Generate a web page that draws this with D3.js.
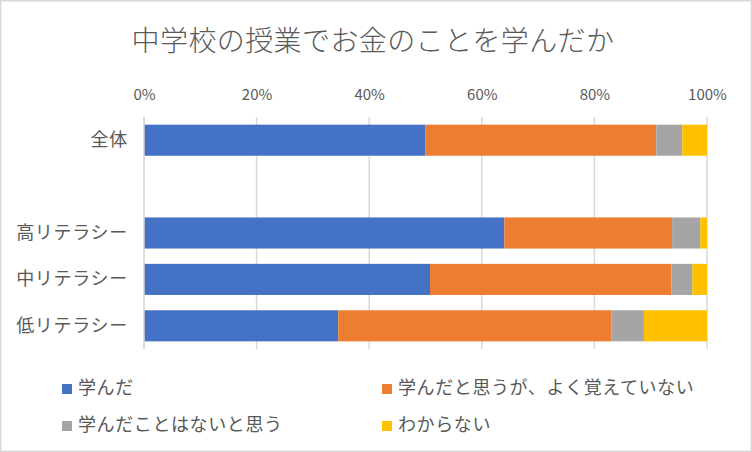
<!DOCTYPE html>
<html><head><meta charset="utf-8">
<script src="https://cdn.jsdelivr.net/npm/d3@7"></script>
<style>
html,body{margin:0;padding:0;background:#fff;}
svg{display:block;font-family:"Noto Sans CJK JP","Noto Sans",sans-serif;}
</style></head>
<body><svg id="c" width="752" height="452"></svg>
<script>
const title = "中学校の授業でお金のことを学んだか";
const categories = ["全体", "", "高リテラシー", "中リテラシー", "低リテラシー"];
const seriesNames = ["学んだ", "学んだと思うが、よく覚えていない", "学んだことはないと思う", "わからない"];
const seriesColors = ["#4472C4", "#ED7D31", "#A5A5A5", "#FFC000"];
const learned    = [50.0, null, 64.0, 50.8, 34.5];
const notRemember= [41.0, null, 29.8, 42.9, 48.5];
const notLearned = [4.6, null, 5.0, 3.7, 5.8];
const unknown    = [4.4, null, 1.2, 2.6, 11.2];
const tickValues = [0, 0.2, 0.4, 0.6, 0.8, 1.0];

const svg = d3.select("#c");
const W = 752, H = 452;
svg.append("rect").attr("x",0.75).attr("y",0.75).attr("width",W-1.5).attr("height",H-1.5)
  .attr("fill","#fff").attr("stroke","#D9D9D9").attr("stroke-width",1.5);

svg.append("text").attr("x",373).attr("y",51).attr("text-anchor","middle")
  .attr("font-size",28).attr("letter-spacing",0.4).attr("font-weight",300).attr("fill","#595959").text(title);

const x = d3.scaleLinear().domain([0,1]).range([144,707]);
const y = d3.scaleBand().domain(categories.map((c,i)=>i)).range([117,349]).paddingInner(0.33).paddingOuter(0.165);

// gridlines
svg.append("g").selectAll("line").data(tickValues).join("line")
  .attr("x1",d=>x(d)).attr("x2",d=>x(d)).attr("y1",117).attr("y2",349)
  .attr("stroke","#D9D9D9").attr("stroke-width",1.5);

// top axis labels
const ax = svg.append("g").attr("transform","translate(0,100)")
  .call(d3.axisTop(x).tickValues(tickValues).tickFormat(d3.format(".0%")).tickSize(0).tickPadding(0));
ax.select(".domain").remove();
ax.selectAll("text").attr("font-size",15).attr("fill","#595959").attr("font-family","'Noto Sans CJK JP',sans-serif");

// stack
const rows = categories.map((c,i)=>({i, v:[learned[i],notRemember[i],notLearned[i],unknown[i]]})).filter(r=>r.v[0]!==null);
const stack = d3.stack().keys([0,1,2,3]).value((d,k)=>d.v[k]/100);
const stacked = stack(rows);
svg.append("g").selectAll("g").data(stacked).join("g").attr("fill",(d,k)=>seriesColors[k])
  .selectAll("rect").data(d=>d).join("rect")
  .attr("x",d=>x(d[0])).attr("width",d=>x(d[1])-x(d[0]))
  .attr("y",d=>y(d.data.i)).attr("height",y.bandwidth());

// redraw 0 axis line on top
svg.append("line").attr("x1",x(0)).attr("x2",x(0)).attr("y1",117).attr("y2",349)
  .attr("stroke","#D9D9D9").attr("stroke-width",1.5);

// category labels
const ay = svg.append("g").attr("transform","translate(128,0)")
  .call(d3.axisLeft(y).tickFormat(i=>categories[i]).tickSize(0).tickPadding(0));
ay.select(".domain").remove();
ay.selectAll("text").attr("font-size",18).attr("letter-spacing",0.7).attr("fill","#595959").attr("font-family","'Noto Sans CJK JP',sans-serif");

// legend
const legPos = [[62,389],[382,389],[62,426],[382,426]];
const lg = svg.append("g").selectAll("g").data(seriesNames).join("g")
  .attr("transform",(d,i)=>`translate(${legPos[i][0]},${legPos[i][1]})`);
lg.append("rect").attr("x",0).attr("y",-5).attr("width",10).attr("height",10).attr("fill",(d,i)=>seriesColors[i]);
lg.append("text").attr("x",16).attr("y",-1).attr("dy","0.35em").attr("font-size",18).attr("letter-spacing",0.6).attr("fill","#595959").text(d=>d);
</script></body></html>
